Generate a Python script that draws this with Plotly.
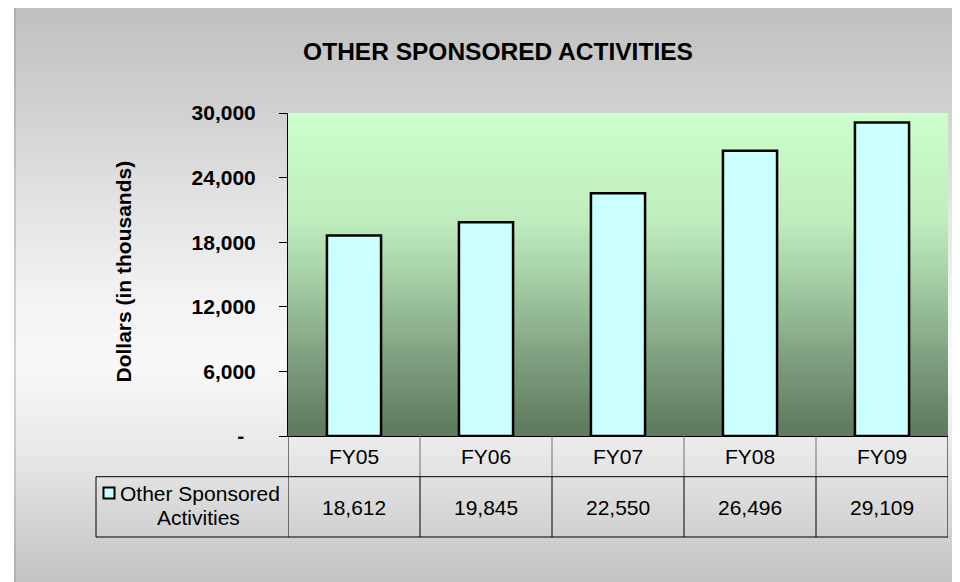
import plotly.graph_objects as go

# ---------------- data ----------------
categories = ["FY05", "FY06", "FY07", "FY08", "FY09"]
values = [18612, 19845, 22550, 26496, 29109]
series_name = "Other Sponsored Activities"
y_tick_values = [0, 6000, 12000, 18000, 24000, 30000]
y_tick_labels = ["-\u00a0\u00a0", "6,000", "12,000", "18,000", "24,000", "30,000"]
chart_title = "OTHER SPONSORED ACTIVITIES"
y_title = "Dollars (in thousands)"
legend_lines = ["Other Sponsored", "Activities"]

# ---------------- layout geometry (screen pixels) ----------------
OFF = 8                      # page body margin
W, H = 960 - OFF, 582 - OFF  # figure size
L, R, T, B = 288, 948, 113, 436  # plot area in screen pixels
FONT = "Liberation Sans, Arial, sans-serif"


def px(xs):
    return (xs - L) / (R - L)


def py(ys):
    return (B - ys) / (B - T)


def interp(stops, y):
    for (y0, c0), (y1, c1) in zip(stops[:-1], stops[1:]):
        if y0 <= y <= y1:
            t = (y - y0) / (y1 - y0) if y1 != y0 else 0
            return tuple(round(a + (b - a) * t) for a, b in zip(c0, c1))
    return stops[-1][1] if y > stops[-1][0] else stops[0][1]


paper_stops = [
    (8, (192, 192, 192)), (105, (208, 208, 208)), (200, (226, 226, 226)),
    (300, (243, 243, 243)), (365, (248, 248, 248)), (450, (233, 233, 233)),
    (520, (213, 213, 213)), (582, (195, 195, 195)),
]
plot_stops = [
    (113, (204, 255, 204)), (223, (190, 236, 190)), (290, (160, 200, 160)),
    (357, (128, 160, 128)), (423, (98, 126, 98)), (436, (95, 122, 95)),
]

shapes = []
step = 2
y = 8
while y < 582:
    c = interp(paper_stops, y + step / 2)
    shapes.append(dict(type="rect", xref="paper", yref="paper", layer="below",
                       x0=px(14), x1=px(960), y0=py(min(y + step + 0.6, 582)), y1=py(y),
                       fillcolor="rgb(%d,%d,%d)" % c, line=dict(width=0)))
    y += step
# left edge shading
shapes.append(dict(type="line", xref="paper", yref="paper", layer="below",
                   x0=px(15), x1=px(15), y0=py(582), y1=py(8),
                   line=dict(color="rgba(140,140,140,0.35)", width=2)))
y = T
while y < B:
    c = interp(plot_stops, y + step / 2)
    shapes.append(dict(type="rect", xref="paper", yref="paper", layer="below",
                       x0=0, x1=1, y0=py(min(y + step + 0.6, B)), y1=py(y),
                       fillcolor="rgb(%d,%d,%d)" % c, line=dict(width=0)))
    y += step

# ---------------- data table grid ----------------
n = len(categories)
row1_bottom = 476.7
row2_bottom = 537
for i in range(n + 1):
    xb = i - 0.5
    col = "black" if i in (0, n) else "#707070"
    shapes.append(dict(type="line", xref="x", yref="paper", layer="above",
                       x0=xb, x1=xb, y0=py(B), y1=py(row1_bottom),
                       line=dict(color=col, width=1)))
    shapes.append(dict(type="line", xref="x", yref="paper", layer="above",
                       x0=xb, x1=xb, y0=py(row1_bottom), y1=py(row2_bottom),
                       line=dict(color="black", width=1)))
for yy in (row1_bottom, row2_bottom):
    shapes.append(dict(type="line", xref="paper", yref="paper", layer="above",
                       x0=px(96), x1=1, y0=py(yy), y1=py(yy),
                       line=dict(color="black", width=1)))
shapes.append(dict(type="line", xref="paper", yref="paper", layer="above",
                   x0=px(96), x1=px(96), y0=py(row1_bottom), y1=py(row2_bottom),
                   line=dict(color="black", width=1)))
# legend key
shapes.append(dict(type="rect", xref="paper", yref="paper", layer="above",
                   x0=px(103.5), x1=px(114.5), y0=py(498.5), y1=py(487.5),
                   fillcolor="#ccffff", line=dict(color="black", width=2)))

# ---------------- annotations ----------------
annotations = [
    dict(text="<b>%s</b>" % y_title, textangle=-90, xref="paper", yref="paper",
         x=px(123), y=py(271.5), showarrow=False, xanchor="center", yanchor="middle",
         font=dict(family=FONT, size=21, color="black")),
]
for c, v in zip(categories, values):
    annotations.append(dict(text=f"{v:,}", xref="x", yref="paper", x=c, y=py(507),
                            showarrow=False, xanchor="center", yanchor="middle",
                            font=dict(family=FONT, size=21, color="black")))
annotations.append(dict(text=legend_lines[0], xref="paper", yref="paper", x=px(199.5), y=py(493),
                        showarrow=False, xanchor="center", yanchor="middle",
                        font=dict(family=FONT, size=21, color="black")))
annotations.append(dict(text=legend_lines[1], xref="paper", yref="paper", x=px(198.5), y=py(517),
                        showarrow=False, xanchor="center", yanchor="middle",
                        font=dict(family=FONT, size=21, color="black")))

# ---------------- figure ----------------
fig = go.Figure()
fig.add_trace(go.Bar(
    x=categories, y=values, name=series_name, width=0.41,
    marker=dict(color="#ccffff", line=dict(color="black", width=2.5)),
    showlegend=False,
))

fig.update_layout(
    width=W, height=H,
    margin=dict(l=L - OFF, r=W - (R - OFF), t=T - OFF, b=H - (B - OFF), autoexpand=False),
    paper_bgcolor="white",
    plot_bgcolor="rgba(0,0,0,0)",
    font=dict(family=FONT, color="black"),
    title=dict(text="<b>%s</b>" % chart_title, x=(498 - OFF) / W, xref="container", xanchor="center",
               y=1 - (51 - OFF) / H, yref="container", yanchor="middle",
               font=dict(family=FONT, size=24.5, color="black")),
    xaxis=dict(type="category", range=[-0.5, n - 0.5], showgrid=False, zeroline=False,
               showline=True, linecolor="black", linewidth=1, ticks="",
               tickfont=dict(family=FONT, size=21, color="black"), ticklabelstandoff=2),
    yaxis=dict(range=[0, 30000], showgrid=False, zeroline=False,
               showline=True, linecolor="black", linewidth=1,
               ticks="outside", ticklen=8, tickcolor="black", tickwidth=1,
               tickvals=y_tick_values, ticktext=y_tick_labels,
               tickfont=dict(family=FONT, size=21, color="black", weight="bold"),
               ticklabelstandoff=19),
    shapes=shapes,
    annotations=annotations,
    bargap=0.59,
)

fig.write_html("out.html")
